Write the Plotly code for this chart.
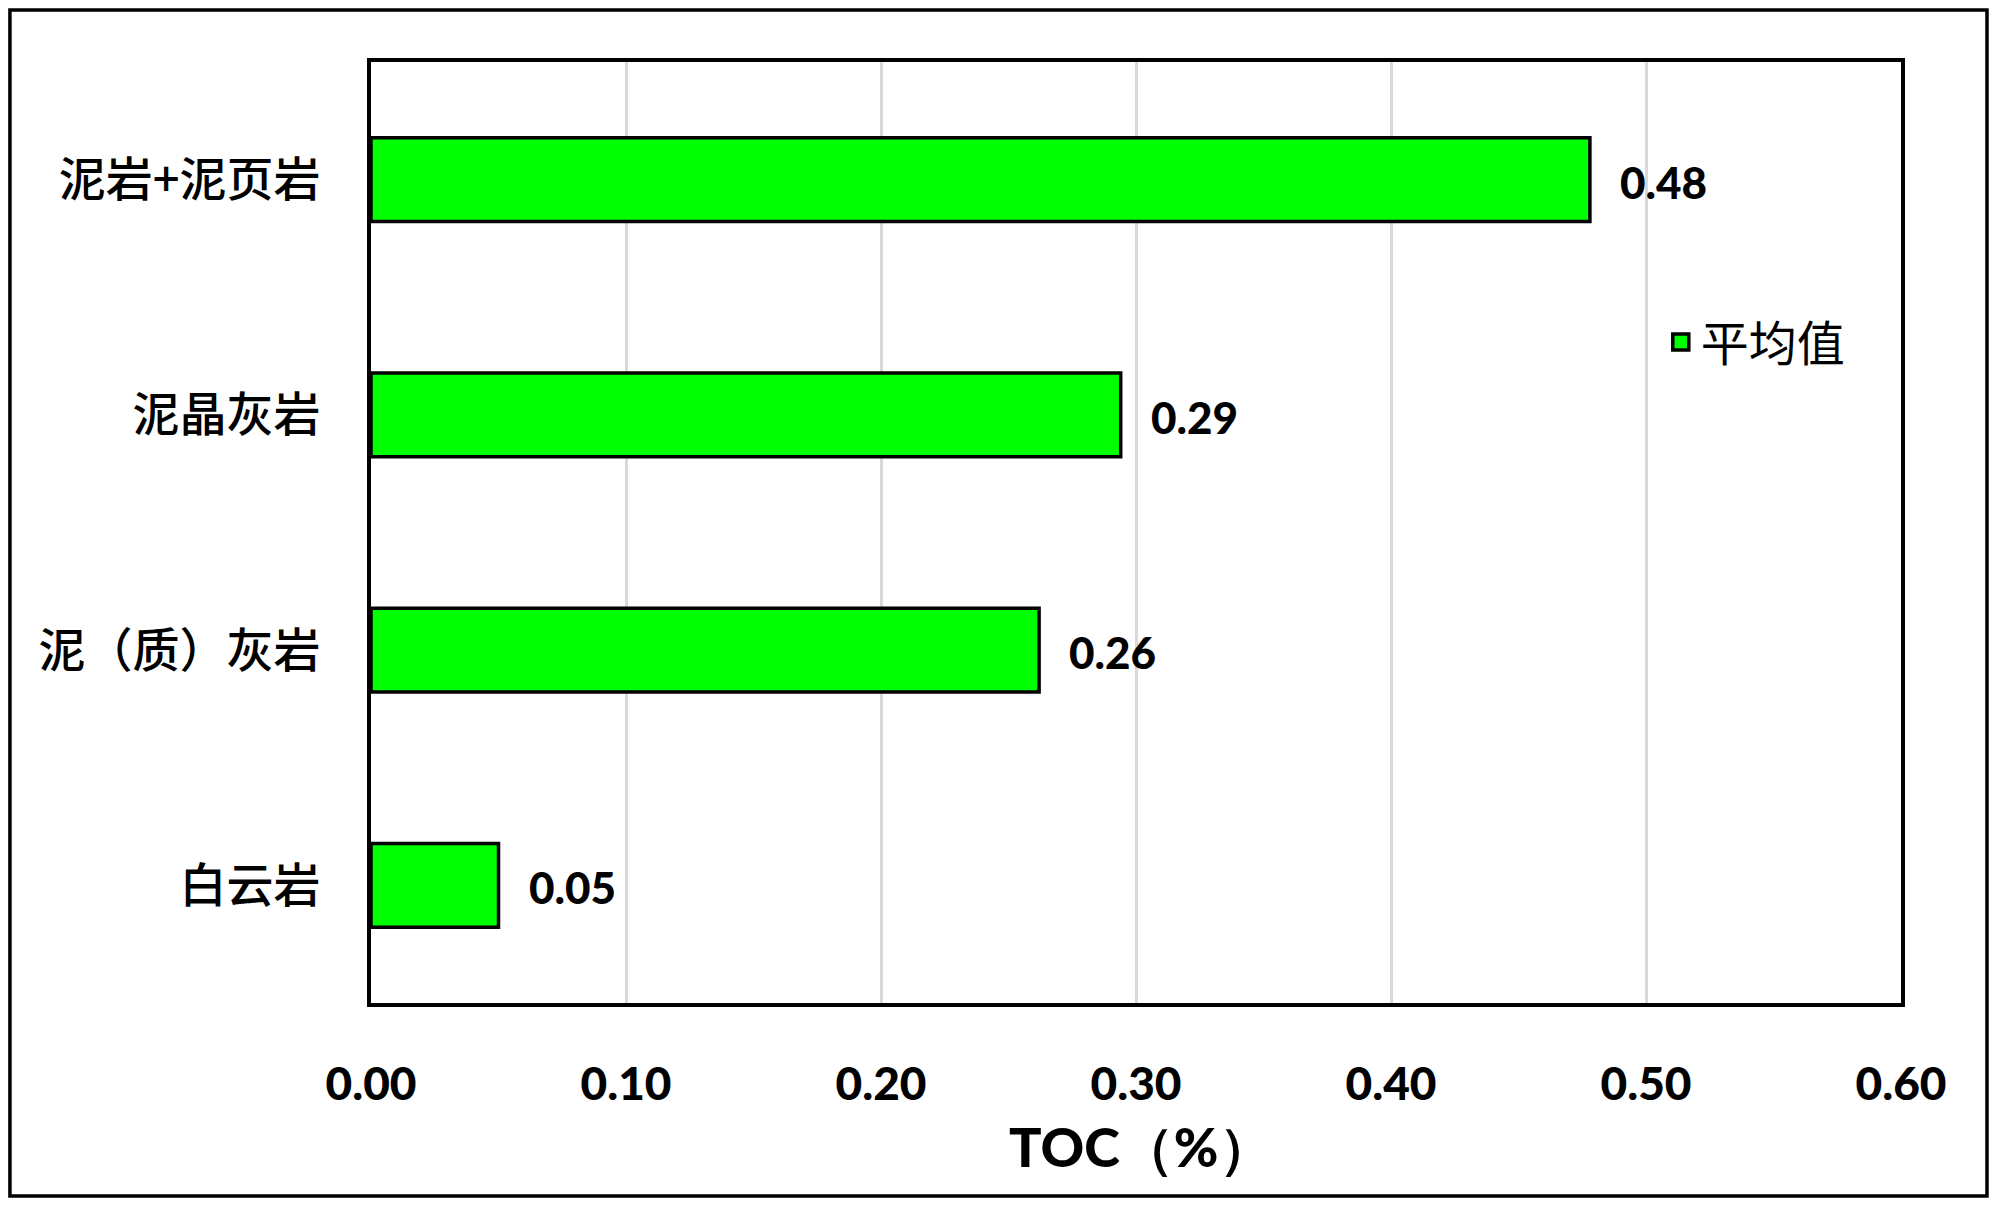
import plotly.graph_objects as go

categories = ["泥岩+泥页岩", "泥晶灰岩", "泥（质）灰岩", "白云岩"]
toc_mean = [0.478, 0.294, 0.262, 0.050]
x_ticks = [0.0, 0.1, 0.2, 0.3, 0.4, 0.5, 0.6]
x_tick_labels = ["0.00", "0.10", "0.20", "0.30", "0.40", "0.50", "0.60"]
series_name = "平均值"
x_title = "TOC（%）"

GREEN = "#00ff00"
CJK = "Noto Sans CJK SC"
NUM = "Lato, 'Open Sans', sans-serif"

fig = go.Figure()
fig.add_trace(go.Bar(
    y=categories, x=toc_mean, orientation="h",
    marker=dict(color=GREEN, line=dict(color="black", width=3.5)),
    showlegend=False, name=series_name, hoverinfo="x+y",
))
# legend entry
fig.add_trace(go.Scatter(
    x=[None], y=[None], mode="markers", name=series_name,
    marker=dict(symbol="square", size=16, color=GREEN, line=dict(color="black", width=3.5)),
    showlegend=True,
))

for c, v in zip(categories, toc_mean):
    fig.add_annotation(
        x=v, y=c, xref="x", yref="y", text=f"{v:.2f}",
        showarrow=False, xanchor="left", yanchor="middle", xshift=28, yshift=-2,
        font=dict(family=NUM, size=44, color="black", weight=900),
    )

# x-axis title
fig.add_annotation(
    x=0.503, y=-0.152, xref="paper", yref="paper", text=x_title,
    showarrow=False, xanchor="center", yanchor="middle",
    font=dict(family=NUM, size=54, color="black", weight=900),
)

# outer frame of the picture
fig.add_shape(type="rect", xref="paper", yref="paper",
              x0=-0.236, x1=1.0562, y0=-0.2051, y1=1.0553,
              line=dict(color="black", width=3.5), fillcolor="rgba(0,0,0,0)", layer="below")

fig.update_layout(
    width=1992, height=1200,
    margin=dict(l=363, r=99, t=54, b=205),
    paper_bgcolor="white", plot_bgcolor="white",
    bargap=0.643,
    font=dict(family=CJK, color="black"),
    legend=dict(
        x=0.843, y=0.702, xanchor="left", yanchor="middle",
        font=dict(family=CJK, size=48, color="black"),
        bgcolor="rgba(0,0,0,0)", itemsizing="trace",
    ),
    xaxis=dict(
        range=[0, 0.6], tickvals=x_ticks, ticktext=x_tick_labels,
        tickfont=dict(family=NUM, size=46, color="black", weight=900),
        showgrid=True, gridcolor="#d9d9d9", gridwidth=3,
        showline=True, linecolor="black", linewidth=4, mirror=True,
        ticks="", ticklabelstandoff=38, zeroline=False,
    ),
    yaxis=dict(
        categoryorder="array", categoryarray=categories, autorange="reversed",
        tickfont=dict(family=CJK, size=47, color="black", weight=500),
        showgrid=False, showline=True, linecolor="black", linewidth=4, mirror=True,
        ticks="", ticklabelstandoff=37,
    ),
)

fig.write_html("out.html", config={"displayModeBar": False})
